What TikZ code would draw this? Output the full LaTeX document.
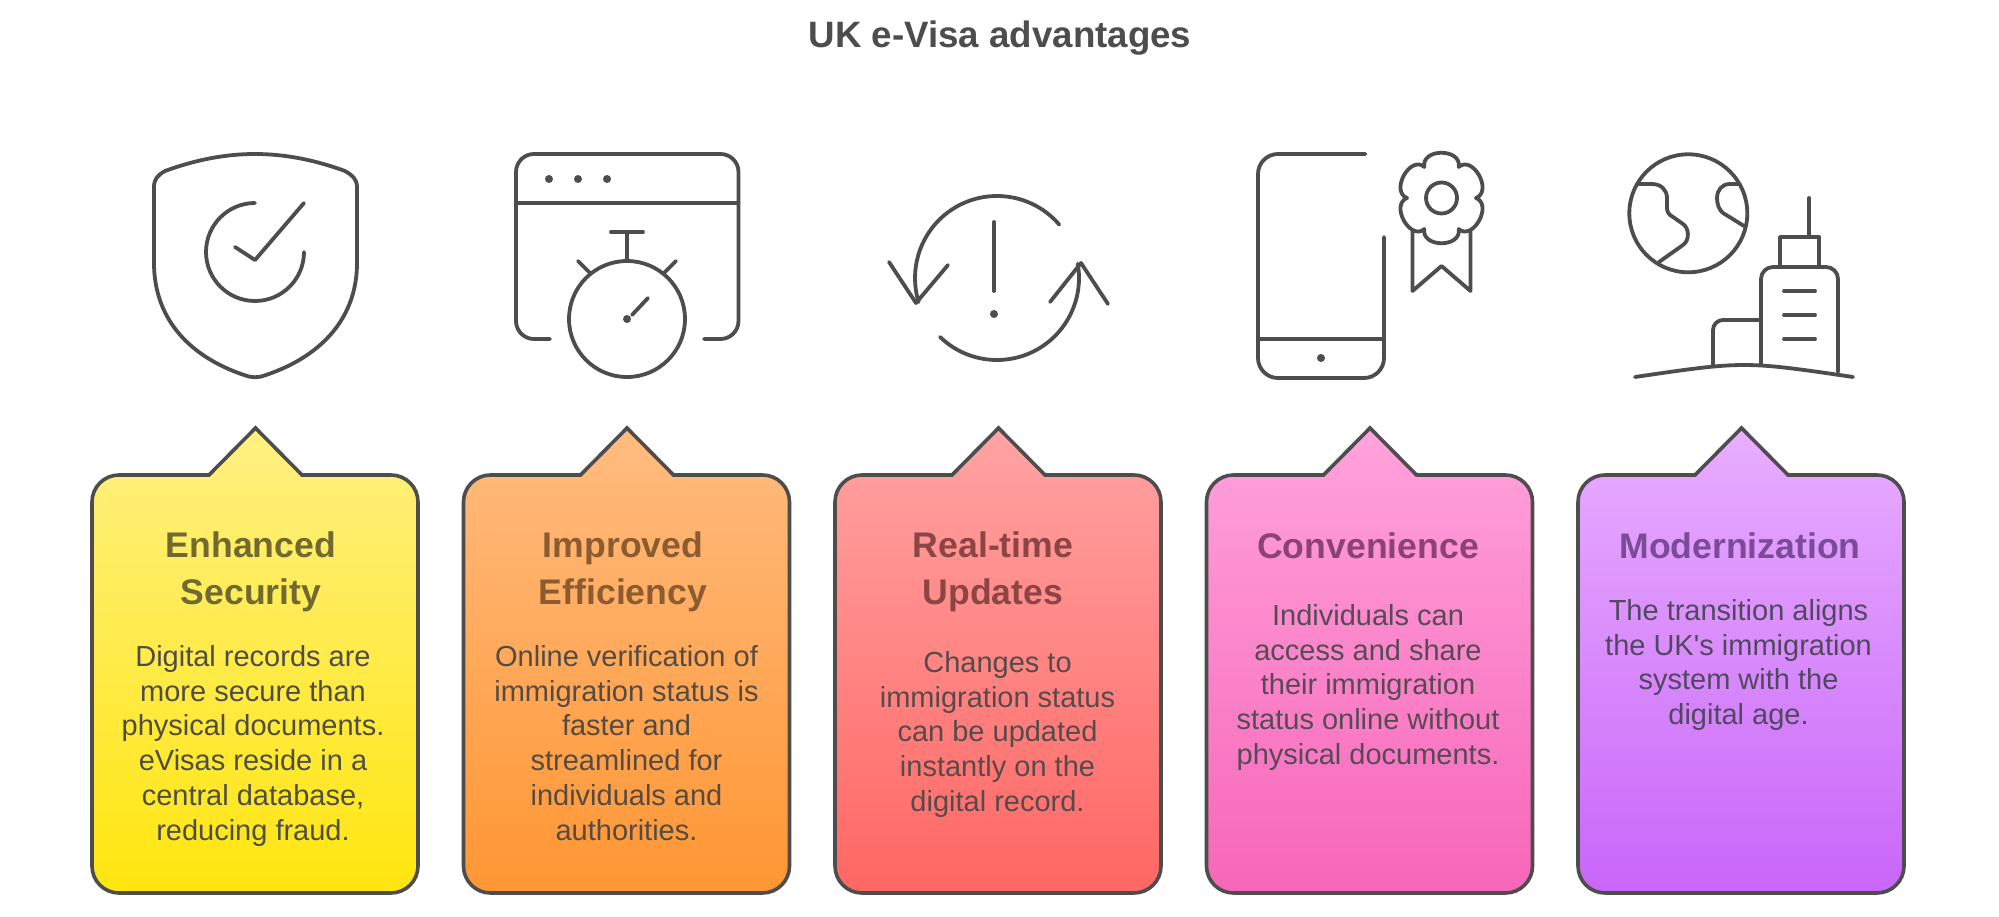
\documentclass[tikz,border=0pt]{standalone}
\usepackage{fontspec}
\setmainfont{Liberation Sans}
\definecolor{ink}{HTML}{4D4D4D}
\definecolor{topA}{HTML}{FFF083}\definecolor{botA}{HTML}{FFE60F}\definecolor{headA}{HTML}{706A30}\definecolor{bodyA}{HTML}{4F4E45}
\definecolor{topB}{HTML}{FFBC80}\definecolor{botB}{HTML}{FF9633}\definecolor{headB}{HTML}{8C5C30}\definecolor{bodyB}{HTML}{554B42}
\definecolor{topC}{HTML}{FFA3A3}\definecolor{botC}{HTML}{FF6763}\definecolor{headC}{HTML}{8C4444}\definecolor{bodyC}{HTML}{574A4A}
\definecolor{topD}{HTML}{FFA3DC}\definecolor{botD}{HTML}{F766B8}\definecolor{headD}{HTML}{8C4374}\definecolor{bodyD}{HTML}{574A57}
\definecolor{topE}{HTML}{E8AEFF}\definecolor{botE}{HTML}{C966F9}\definecolor{headE}{HTML}{7B4A98}\definecolor{bodyE}{HTML}{514860}
\tikzset{
  icon/.style={draw=ink,line width=3.8pt,line cap=round,line join=round},
  dotm/.style={fill=ink},
  titletxt/.style={inner sep=0,text=ink,font=\fontsize{36.7}{44}\selectfont\bfseries,anchor=base},
  headtxt/.style={inner sep=0,align=center,anchor=north,font=\fontsize{35.6}{47}\selectfont\bfseries,execute at begin node=\rule{0pt}{28pt}},
  bodytxt/.style={inner sep=0,align=center,anchor=north,font=\fontsize{29}{34.8}\selectfont,execute at begin node=\rule{0pt}{20pt}},
  boxline/.style={draw=ink,line width=3.6pt,line join=miter}
}
\newcommand{\cbox}[2]{%
  \begin{scope}[xshift=#1pt]
  \path[boxline,top color=top#2,bottom color=bot#2]
    (302,475) -- (391,475) arc[start angle=-90,end angle=0,radius=27]
    -- (418,866) arc[start angle=0,end angle=90,radius=27]
    -- (119,893) arc[start angle=90,end angle=180,radius=27]
    -- (92,502) arc[start angle=180,end angle=270,radius=27]
    -- (209,475) -- (255.5,428) -- cycle;
  \end{scope}}
\begin{document}
\begin{tikzpicture}[x=1pt,y=-1pt]
\path[use as bounding box,fill=white] (0,0) rectangle (1999,917);
\node[titletxt] (title) at (1000,48) {UK e-Visa advantages};

% callouts
\cbox{0}{A}
\cbox{371.5}{B}
\cbox{743}{C}
\cbox{1114.5}{D}
\cbox{1486}{E}

% headings
\node[headtxt,text=headA] (h1) at (251,531) {Enhanced\\Security};
\node[headtxt,text=headB] (h2) at (623,531) {Improved\\Efficiency};
\node[headtxt,text=headC] (h3) at (993,531) {Real-time\\Updates};
\node[headtxt,text=headD] (h4) at (1368,530) {Convenience};
\node[headtxt,text=headE] (h5) at (1740,530) {Modernization};

% body texts
\node[bodytxt,text=bodyA] (b1) at (253,645) {Digital records are\\more secure than\\physical documents.\\eVisas reside in a\\central database,\\reducing fraud.};
\node[bodytxt,text=bodyB] (b2) at (626.5,645) {Online verification of\\immigration status is\\faster and\\streamlined for\\individuals and\\authorities.};
\node[bodytxt,text=bodyC] (b3) at (997.5,651) {Changes to\\immigration status\\can be updated\\instantly on the\\digital record.};
\node[bodytxt,text=bodyD] (b4) at (1368,604) {Individuals can\\access and share\\their immigration\\status online without\\physical documents.};
\node[bodytxt,text=bodyE] (b5) at (1738.5,599) {The transition aligns\\the UK\textquotesingle s immigration\\system with the\\digital age.};

% shield icon
\draw[icon] (154,187) .. controls (154,179) and (158,175) .. (165,171)
  .. controls (195,160) and (225,154) .. (255,154)
  .. controls (285,154) and (315,160) .. (345,171)
  .. controls (352,175) and (357,179) .. (357,187)
  -- (357,263) .. controls (357,315) and (325,355) .. (266,375)
  .. controls (259,378) and (251,378) .. (244,375)
  .. controls (185,355) and (154,315) .. (154,263) -- cycle;
\draw[icon] (255,203) arc[start angle=-90,delta angle=-270,radius=49];
\draw[icon] (235,247) -- (255,260) -- (304,203);

% stopwatch icon
\draw[icon] (550,339) -- (534,339) arc[start angle=90,end angle=180,radius=18] -- (516,172)
  arc[start angle=180,end angle=270,radius=18] -- (720.5,154)
  arc[start angle=-90,end angle=0,radius=18] -- (738.5,321)
  arc[start angle=0,end angle=90,radius=18] -- (704,339);
\draw[icon] (516,203) -- (738.5,203);
\foreach \px in {549,578,607} \fill[dotm] (\px,179) circle[radius=4];
\draw[icon] (627,319) circle[radius=58];
\draw[icon] (627,261) -- (627,232) (611,232) -- (643,232);
\draw[icon] (578,261) -- (590,273) (676,261) -- (664,273);
\fill[dotm] (627,319) circle[radius=4];
\draw[icon] (632,315) -- (648,298);

% cycle icon
\draw[icon] (997,278) ++(-40.6:82) arc[start angle=-40.6,end angle=-197,radius=82];
\draw[icon] (997,278) ++(134:82) arc[start angle=134,end angle=-10,radius=82];
\draw[icon] (889,262) -- (916,303) -- (948,265);
\draw[icon] (1050,302) -- (1081,263) -- (1108,304);
\draw[icon] (994,222) -- (994,291);
\fill[dotm] (994,314) circle[radius=4];

% phone icon
\draw[icon] (1365.5,154) -- (1278,154) arc[start angle=-90,end angle=-180,radius=20] -- (1258,358)
  arc[start angle=180,end angle=90,radius=20] -- (1364,378)
  arc[start angle=90,end angle=0,radius=20] -- (1384,237);
\draw[icon] (1258,339) -- (1384,339);
\fill[dotm] (1321,358) circle[radius=4];
% badge
\begin{scope}[shift={(1441.5,198)},xscale=.96]
\foreach \ang in {0,60,...,300}
  \draw[icon,rotate=\ang] (-18,-31) .. controls (-21,-50) and (21,-50) .. (18,-31);
\end{scope}
\draw[icon] (1441.5,198) circle[radius=15.5];
\draw[icon] (1412.5,231) -- (1412.5,291) -- (1441.5,266) -- (1470.5,291) -- (1470.5,231);

% globe and building icon
\draw[icon] (1688.3,213.3) circle[radius=59];
\draw[icon] (1638,184) -- (1652,184) .. controls (1661,184) and (1667,190) .. (1667,198)
  -- (1667,208) .. controls (1667,212) and (1669,215) .. (1673,217) -- (1683,224)
  .. controls (1689,228) and (1690,240) .. (1683,245) -- (1659,262);
\draw[icon] (1738,184) -- (1730,184) .. controls (1722,184) and (1717,190) .. (1717,198)
  .. controls (1717,204) and (1719,210) .. (1723,213) -- (1744,226);
\draw[icon] (1761,365) -- (1761,279) arc[start angle=180,end angle=270,radius=12] -- (1826,267)
  arc[start angle=-90,end angle=0,radius=12] -- (1838,372);
\draw[icon] (1780,267) -- (1780,237) -- (1819,237) -- (1819,267);
\draw[icon] (1809,237) -- (1809,198);
\draw[icon] (1784,291) -- (1815,291) (1784,315) -- (1815,315) (1784,339) -- (1815,339);
\draw[icon] (1713,365) -- (1713,330) arc[start angle=180,end angle=270,radius=10] -- (1761,320);
\draw[icon] (1635,377) .. controls (1744,361) .. (1853,377);
\end{tikzpicture}
\end{document}
